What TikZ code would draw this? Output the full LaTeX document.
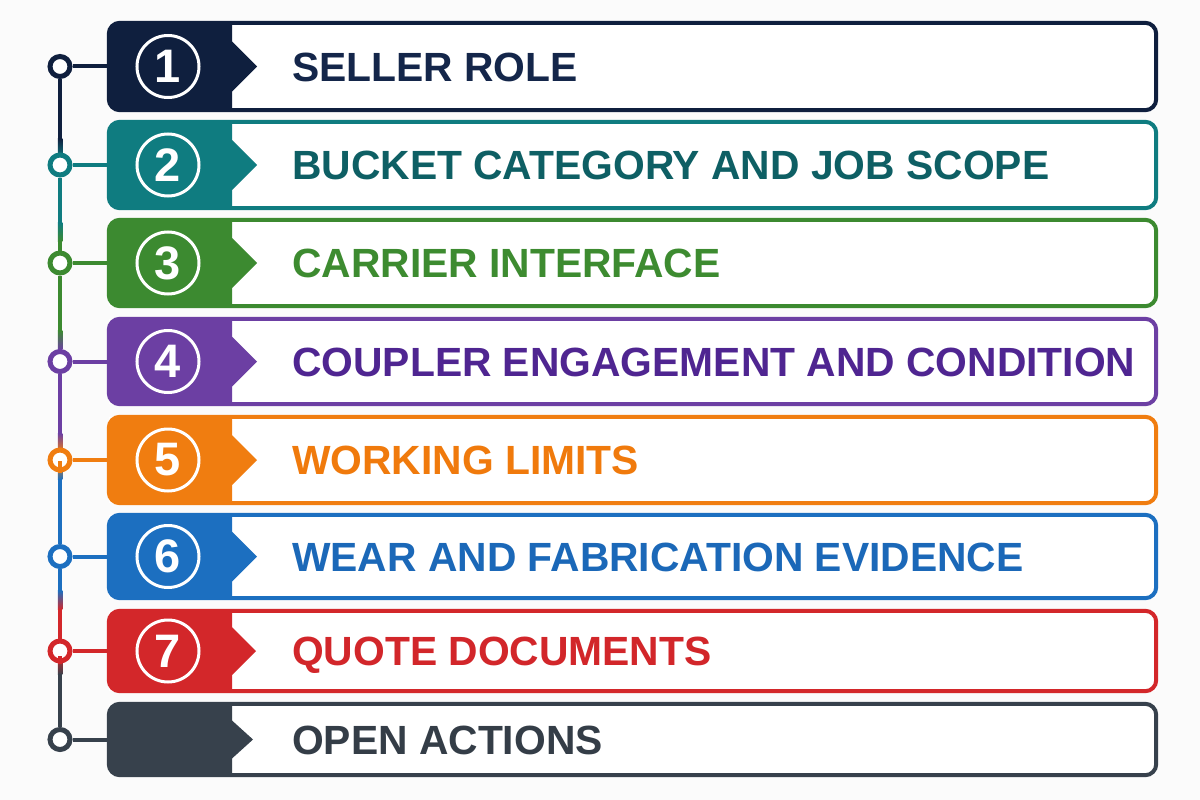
\documentclass[tikz,border=0pt]{standalone}
\usepackage{fontspec}
\setmainfont{Liberation Sans}
\definecolor{c1}{HTML}{0F1F3E}
\definecolor{c2}{HTML}{0F7C80}
\definecolor{c3}{HTML}{3C8A30}
\definecolor{c4}{HTML}{6C3FA3}
\definecolor{c5}{HTML}{F07D10}
\definecolor{c6}{HTML}{1C6FC0}
\definecolor{c7}{HTML}{D3272A}
\definecolor{c8}{HTML}{37414C}
\definecolor{t1}{HTML}{14264A}
\definecolor{t2}{HTML}{0E5F64}
\definecolor{t3}{HTML}{3D8B30}
\definecolor{t4}{HTML}{4F2591}
\definecolor{t5}{HTML}{F07A0C}
\definecolor{t6}{HTML}{1B68B8}
\definecolor{t7}{HTML}{D2262A}
\definecolor{t8}{HTML}{343D47}
\definecolor{bg}{HTML}{FBFBFB}
\begin{document}
\begin{tikzpicture}[x=1pt,y=-1pt,
  rowbox/.style={inner sep=0pt, minimum width=1047pt, draw=none, fill=white},
  numc/.style={circle, draw=white, line width=3pt, minimum size=62pt, inner sep=0pt, text=white, font=\bfseries\fontsize{47}{47}\selectfont},
  dot/.style={circle, line width=5pt, minimum size=20pt, inner sep=0pt, fill=white},
  spine/.style={line width=4.5pt},
  link/.style={line width=4pt},
  label/.style={anchor=base west, inner sep=0pt, font=\bfseries\fontsize{40.8}{41}\selectfont}]
\fill[bg] (0,0) rectangle (1200,800);
\useasboundingbox (0,0) rectangle (1200,800);
\foreach \i/\j/\ty in {1/2/148, 2/3/232, 3/4/340, 4/5/443, 5/6/470, 6/7/600, 7/8/665}{
  \shade[top color=c\i, bottom color=c\j] (57.75,\ty-9.5) rectangle (62.25,\ty+9.5);
}
\foreach \i/\tp/\bt/\hh/\tip/\lab in {
  1/21/112/25/257/SELLER ROLE,
  2/120/210/25/257/BUCKET CATEGORY AND JOB SCOPE,
  3/218/308/25/257/CARRIER INTERFACE,
  4/317/406/25/257/COUPLER ENGAGEMENT AND CONDITION,
  5/415/505/25/257/WORKING LIMITS,
  6/513/600/25/257/WEAR AND FABRICATION EVIDENCE,
  7/609/693/24/256/QUOTE DOCUMENTS,
  8/702/777/19/253/OPEN ACTIONS}{
  \pgfmathsetmacro\cy{(\tp+\bt)/2}
  \pgfmathsetmacro\hgt{\bt-\tp-4}
  \node[rowbox, minimum height=\hgt pt] (b\i) at (632.5,\cy) {};
  \begin{scope}
    \clip[rounded corners=11pt] (b\i.north west) rectangle (b\i.south east);
    \fill[c\i] (100,\tp) -- (232,\tp) -- (232,\cy-\hh) -- (\tip,\cy) -- (232,\cy+\hh) -- (232,\bt) -- (100,\bt) -- cycle;
  \end{scope}
  \draw[c\i, line width=4pt, rounded corners=11pt] (b\i.north west) rectangle (b\i.south east);
  \ifnum\i<8
    \node[numc] (n\i) at (168,\cy) {\i};
  \fi
  \node[dot, draw=c\i] (d\i) at (60,\cy) {};
  \draw[c\i, link] (d\i) -- (b\i.west);
  \node[label, text=t\i] (l\i) at (292,\cy+14.7) {\lab};
}
\foreach \i/\j/\ty in {1/2/148, 2/3/232, 3/4/340, 4/5/443, 5/6/470, 6/7/600, 7/8/665}{
  \coordinate (s\i) at (60,\ty-9);
  \coordinate (r\i) at (60,\ty+9);
  \draw[c\i, spine] (d\i) -- (s\i);
  \draw[c\j, spine] (r\i) -- (d\j);
}
\end{tikzpicture}
\end{document}
